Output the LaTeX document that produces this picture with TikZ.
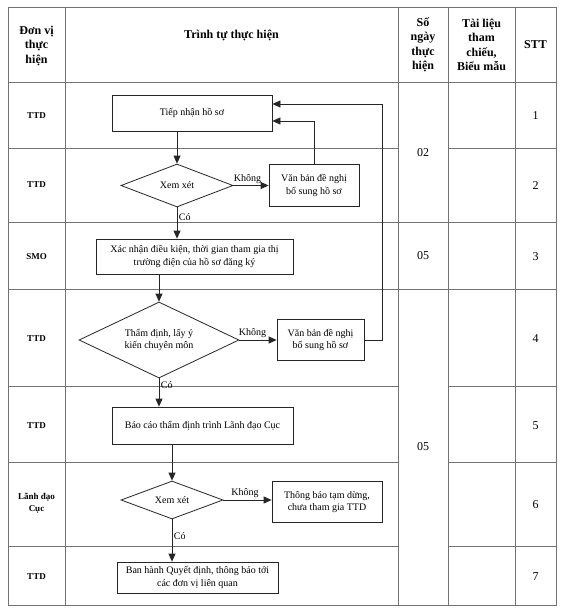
\documentclass[tikz,border=0pt]{standalone}
\usepackage{fontspec}
\setmainfont{Liberation Serif}
\usetikzlibrary{shapes.geometric,arrows.meta}
\begin{document}
\begin{tikzpicture}[x=1pt,y=-1pt,
  tbl/.style={draw=black!55,line width=0.9pt},
  head/.style={font=\fontsize{12}{14.5}\selectfont\bfseries,align=center,inner sep=0pt},
  unit/.style={font=\fontsize{9}{12}\selectfont\bfseries,align=center,inner sep=0pt},
  num/.style={font=\fontsize{12}{14}\selectfont,inner sep=0pt},
  proc/.style={draw=black!85,line width=0.8pt,rectangle,align=center,inner sep=2pt,font=\fontsize{10}{12.5}\selectfont},
  deci/.style={draw=black!85,line width=0.8pt,diamond,align=center,inner sep=0pt,aspect=2.2,font=\fontsize{10}{12.5}\selectfont},
  arr/.style={draw=black!85,line width=0.8pt,-{Triangle[length=8pt,width=7pt]}},
  lbl/.style={font=\fontsize{10}{12}\selectfont,inner sep=1.5pt}
]
\useasboundingbox (0,0) rectangle (565,615);
\fill[white] (0,0) rectangle (565,615);
% table
\draw[tbl] (8,7) rectangle (556,605);
\foreach \x in {65,398,448,515} \draw[tbl] (\x,7) -- (\x,605);
\foreach \y in {82,222,289} \draw[tbl] (8,\y) -- (556,\y);
\foreach \y in {148,386,462,546} {\draw[tbl] (8,\y) -- (398,\y); \draw[tbl] (448,\y) -- (556,\y);}
% header
\node[head] (h1) at (36.5,46) {Đơn vị\\thực\\hiện};
\node[head] (h2) at (231.5,35) {Trình tự thực hiện};
\node[head] (h3) at (423,45) {Số\\ngày\\thực\\hiện};
\node[head] (h4) at (481.5,45) {Tài liệu\\tham\\chiếu,\\Biểu mẫu};
\node[head] (h5) at (535.5,45) {STT};
% unit column
\node[unit] (u1) at (36.5,116) {TTD};
\node[unit] (u2) at (36.5,185) {TTD};
\node[unit] (u3) at (36.5,256.5) {SMO};
\node[unit] (u4) at (36.5,339) {TTD};
\node[unit] (u5) at (36.5,426) {TTD};
\node[unit] (u6) at (36.5,503) {Lãnh đạo\\Cục};
\node[unit] (u7) at (36.5,577) {TTD};
% days
\node[num] (d1) at (423,153) {02};
\node[num] (d2) at (423,256) {05};
\node[num] (d3) at (423,447) {05};
% STT
\node[num] (s1) at (535.5,115.5) {1};
\node[num] (s2) at (535.5,186) {2};
\node[num] (s3) at (535.5,257) {3};
\node[num] (s4) at (535.5,339) {4};
\node[num] (s5) at (535.5,426) {5};
\node[num] (s6) at (535.5,505) {6};
\node[num] (s7) at (535.5,577) {7};
% flowchart
\node[proc,minimum width=160pt,minimum height=36pt] (box1) at (192,113) {Tiếp nhận hồ sơ};
\node[deci,aspect=2.6,minimum width=112pt,minimum height=43pt] (dia1) at (177,185.5) {Xem xét};
\node[proc,minimum width=90pt,minimum height=42pt] (vb1) at (314,185.5) {Văn bản đề nghị\\bổ sung hồ sơ};
\node[proc,minimum width=197pt,minimum height=35pt] (xn) at (194.5,256.5) {Xác nhận điều kiện, thời gian tham gia thị\\trường điện của hồ sơ đăng ký};
\node[deci,aspect=2.1,minimum width=160pt,minimum height=76pt] (dia2) at (159,340) {Thẩm định, lấy ý\\kiến chuyên môn};
\node[proc,minimum width=87pt,minimum height=41pt] (vb2) at (320.5,340) {Văn bản đề nghị\\bổ sung hồ sơ};
\node[proc,minimum width=181pt,minimum height=37pt] (bc) at (202.5,425.5) {Báo cáo thẩm định trình Lãnh đạo Cục};
\node[deci,aspect=2.7,minimum width=102pt,minimum height=38pt] (dia3) at (172,500) {Xem xét};
\node[proc,minimum width=110pt,minimum height=41pt] (tb) at (327,502) {Thông báo tạm dừng,\\chưa tham gia TTD};
\node[proc,minimum width=161pt,minimum height=31pt] (bh) at (197.5,577.5) {Ban hành Quyết định, thông báo tới\\các đơn vị liên quan};
\coordinate (loop) at (382,104);
% connectors
\draw[arr] (box1.south -| dia1.north) -- (dia1.north);
\draw[arr] (dia1.east) -- node[lbl,above,pos=0.4] {Không} (vb1.west);
\draw[arr] (vb1.north) |- ([yshift=-8pt]box1.east);
\draw[arr] (vb2.east) -| (loop) -- (box1.east |- loop);
\draw[arr] (dia1.south) -- node[lbl,right,pos=0.3] {Có} (dia1.south |- xn.north);
\draw[arr] (xn.south -| dia2.north) -- (dia2.north);
\draw[arr] (dia2.east) -- node[lbl,above,pos=0.35] {Không} (vb2.west);
\draw[arr] (dia2.south) -- node[lbl,right,pos=0.25] {Có} (dia2.south |- bc.north);
\draw[arr] (bc.south -| dia3.north) -- (dia3.north);
\draw[arr] (dia3.east) -- node[lbl,above,pos=0.45] {Không} (dia3.east -| tb.west);
\draw[arr] (dia3.south) -- node[lbl,right,pos=0.4] {Có} (dia3.south |- bh.north);
\end{tikzpicture}
\end{document}
